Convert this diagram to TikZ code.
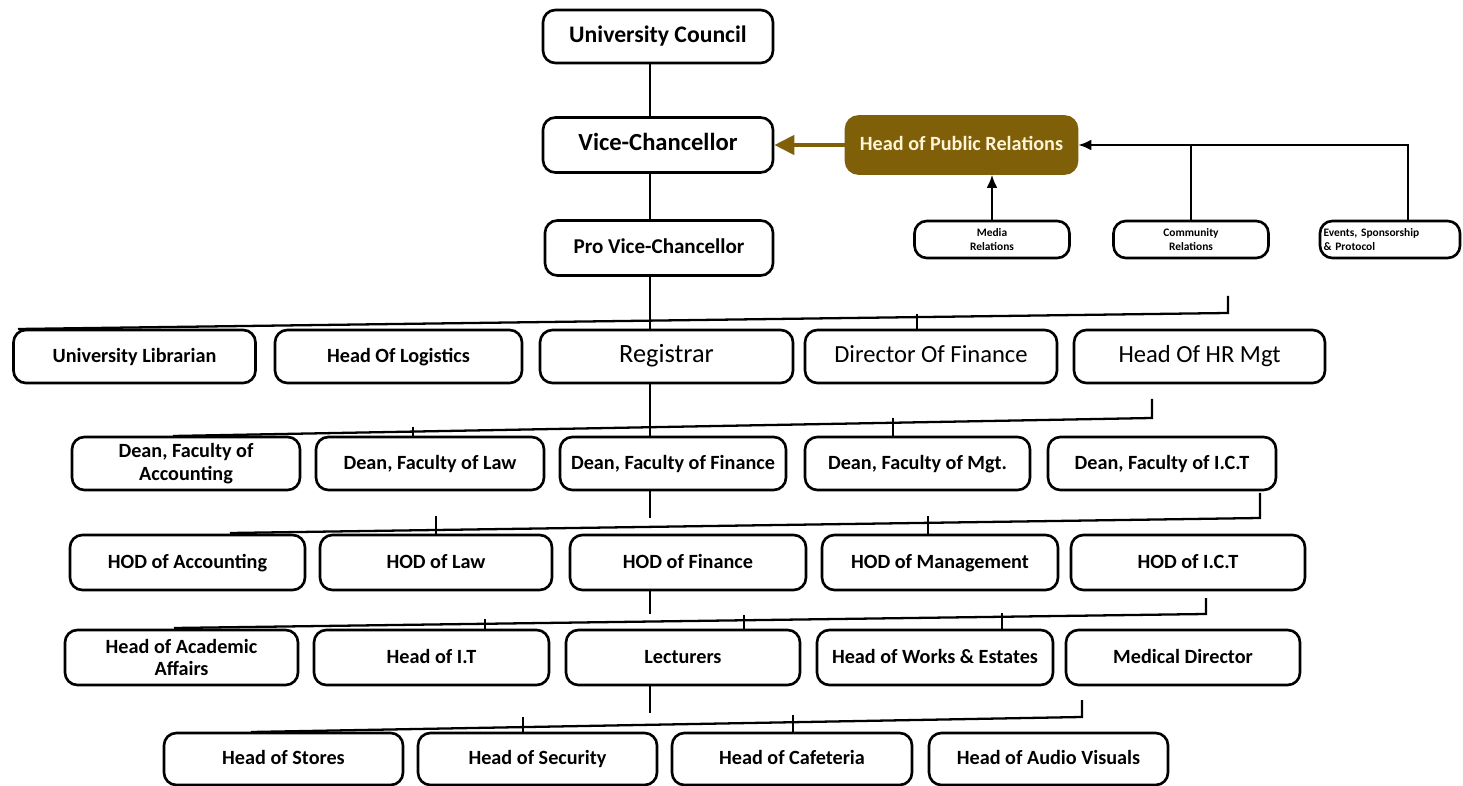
\documentclass[tikz,border=0pt]{standalone}
\usepackage{fontspec}
\setmainfont{Carlito}
\usetikzlibrary{arrows.meta}
\definecolor{prbrown}{RGB}{127,96,8}
\definecolor{prtext}{RGB}{255,244,214}

\begin{document}
\begin{tikzpicture}[x=0.02cm,y=-0.02cm,>=Latex,
  orgbox/.style={draw=black,line width=1.5pt,rounded corners=7pt,fill=white,align=center,inner sep=2pt,minimum height=1.06cm,text height=0.8em,text depth=0.17em,font=\bfseries\fontsize{11.5}{13}\selectfont},
  twoline/.style={text height=,text depth=},
  smallbox/.style={orgbox,twoline,minimum width=3.1cm,minimum height=0.74cm,font=\bfseries\fontsize{6.5}{8}\selectfont},
  link/.style={line width=1.3pt}]
\useasboundingbox (0,0) rectangle (1463,786);

% top of the chart
\node[orgbox,minimum width=4.6cm,font=\bfseries\fontsize{13.5}{15}\selectfont] (uc) at (658,36.5) {University Council};
\node[orgbox,minimum width=4.6cm,minimum height=1.1cm,font=\bfseries\fontsize{14}{16}\selectfont] (vc) at (658,145) {Vice-Chancellor};
\node[orgbox,minimum width=4.56cm,minimum height=1.1cm,font=\bfseries\fontsize{12}{14}\selectfont] (pvc) at (659,248) {Pro Vice-Chancellor};
\coordinate (spine) at (650,0);
\draw[link] (spine |- uc.south) -- (spine |- vc.north);
\draw[link] (spine |- vc.south) -- (spine |- pvc.north);

% public relations
\node[orgbox,draw=prbrown,fill=prbrown,text=prtext,minimum width=4.62cm,minimum height=1.14cm] (hpr) at (961.5,145) {Head of Public Relations};
\node[smallbox] (media) at (992,239.5) {Media\\Relations};
\node[smallbox] (comm) at (1191,239.5) {Community\\Relations};
\node[smallbox,minimum width=2.8cm,text width=2.66cm,align=left] (events) at (1390,239.5) {Events, Sponsorship\\\& Protocol};
\draw[draw=prbrown,line width=2.4pt,-{Triangle[length=4mm,width=3.8mm]}] (hpr) -- (vc);
\draw[link,-{Latex[length=2.6mm,width=2.2mm]}] (media) -- (media |- hpr.south);
\draw[link,-{Latex[length=2.6mm,width=2.2mm]}] ([xshift=0.36cm]events.north) |- (hpr.east);
\draw[link] (comm.north) -- (comm.north |- hpr.east);

% row 1
\node[orgbox,minimum width=4.84cm] (lib) at (134.5,356.5) {University Librarian};
\node[orgbox,minimum width=4.94cm] (logi) at (398.5,356.5) {Head Of Logistics};
\node[orgbox,minimum width=5.06cm,font=\fontsize{15}{17}\selectfont] (reg) at (666.5,356.5) {Registrar};
\node[orgbox,minimum width=5.04cm,font=\fontsize{14}{16}\selectfont] (dof) at (931,356.5) {Director Of Finance};
\node[orgbox,minimum width=5.02cm,font=\fontsize{14}{16}\selectfont] (hrm) at (1199.5,356.5) {Head Of HR Mgt};
\coordinate (b1l) at (18,329);
\coordinate (b1r) at (1228,313);
\coordinate (b1t) at (1228,296);
\coordinate (t1a) at (917,314);
\draw[link] (b1l) -- (b1r) -- (b1t);
\draw[link] (spine |- pvc.south) -- (spine |- reg.north);
\draw[link] (t1a) -- (t1a |- dof.north);

% row 2
\node[orgbox,twoline,minimum width=4.56cm] (dacc) at (186,463.5) {Dean, Faculty of\\Accounting};
\node[orgbox,minimum width=4.56cm] (dlaw) at (430,463.5) {Dean, Faculty of Law};
\node[orgbox,minimum width=4.52cm] (dfin) at (673,463.5) {Dean, Faculty of Finance};
\node[orgbox,minimum width=4.5cm] (dmgt) at (917.5,463.5) {Dean, Faculty of Mgt.};
\node[orgbox,minimum width=4.56cm] (dict) at (1162,463.5) {Dean, Faculty of I.C.T};
\coordinate (b2l) at (173,436);
\coordinate (b2r) at (1152,418);
\coordinate (b2t) at (1152,399);
\coordinate (t2a) at (413,427);
\coordinate (t2b) at (893,418);
\draw[link] (b2l) -- (b2r) -- (b2t);
\draw[link] (spine |- reg.south) -- (spine |- dfin.north);
\draw[link] (t2a) -- (t2a |- dlaw.north);
\draw[link] (t2b) -- (t2b |- dmgt.north);

% row 3
\node[orgbox,minimum width=4.7cm,minimum height=1.1cm] (hacc) at (187.5,562.5) {HOD of Accounting};
\node[orgbox,minimum width=4.64cm,minimum height=1.1cm] (hlaw) at (436,562.5) {HOD of Law};
\node[orgbox,minimum width=4.72cm,minimum height=1.1cm] (hfin) at (688,562.5) {HOD of Finance};
\node[orgbox,minimum width=4.72cm,minimum height=1.1cm] (hmgt) at (940,562.5) {HOD of Management};
\node[orgbox,minimum width=4.68cm,minimum height=1.1cm] (hict) at (1188,562.5) {HOD of I.C.T};
\coordinate (b3l) at (230,533);
\coordinate (b3r) at (1260,518);
\coordinate (b3t) at (1260,493);
\coordinate (b3s) at (650,518);
\coordinate (t3a) at (436,516);
\coordinate (t3b) at (928,516);
\draw[link] (b3l) -- (b3r) -- (b3t);
\draw[link] (spine |- dfin.south) -- (b3s);
\draw[link] (t3a) -- (t3a |- hlaw.north);
\draw[link] (t3b) -- (t3b |- hmgt.north);

% row 4
\node[orgbox,twoline,minimum width=4.66cm,minimum height=1.1cm] (haca) at (181.5,657.5) {Head of Academic\\Affairs};
\node[orgbox,minimum width=4.7cm,minimum height=1.1cm] (hit) at (431.5,657.5) {Head of I.T};
\node[orgbox,minimum width=4.68cm,minimum height=1.1cm] (lect) at (683,657.5) {Lecturers};
\node[orgbox,minimum width=4.72cm,minimum height=1.1cm] (hwks) at (935,657.5) {Head of Works \& Estates};
\node[orgbox,minimum width=4.68cm,minimum height=1.1cm] (med) at (1183,657.5) {Medical Director};
\coordinate (b4l) at (174,628);
\coordinate (b4r) at (1206,614);
\coordinate (b4t) at (1206,598);
\coordinate (b4s) at (650,614);
\coordinate (t4a) at (485,619);
\coordinate (t4b) at (744,615);
\coordinate (t4c) at (1002,613);
\draw[link] (b4l) -- (b4r) -- (b4t);
\draw[link] (spine |- hfin.south) -- (b4s);
\draw[link] (t4a) -- (t4a |- hit.north);
\draw[link] (t4b) -- (t4b |- lect.north);
\draw[link] (t4c) -- (t4c |- hwks.north);

% row 5
\node[orgbox,minimum width=4.78cm,minimum height=1.04cm] (hsto) at (283.5,759) {Head of Stores};
\node[orgbox,minimum width=4.78cm,minimum height=1.04cm] (hsec) at (537.5,759) {Head of Security};
\node[orgbox,minimum width=4.8cm,minimum height=1.04cm] (hcaf) at (792,759) {Head of Cafeteria};
\node[orgbox,minimum width=4.78cm,minimum height=1.04cm] (hav) at (1048.5,759) {Head of Audio Visuals};
\coordinate (b5l) at (251,732);
\coordinate (b5r) at (1082,717);
\coordinate (b5t) at (1082,700);
\coordinate (b5s) at (650,713);
\coordinate (t5a) at (523,717);
\coordinate (t5b) at (793,715);
\draw[link] (b5l) -- (b5r) -- (b5t);
\draw[link] (spine |- lect.south) -- (b5s);
\draw[link] (t5a) -- (t5a |- hsec.north);
\draw[link] (t5b) -- (t5b |- hcaf.north);
\end{tikzpicture}
\end{document}
